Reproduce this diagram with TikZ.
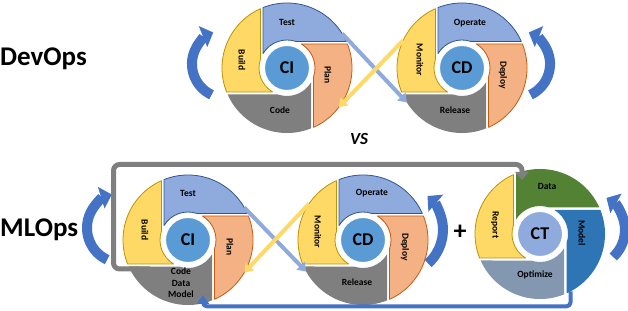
\documentclass[tikz,border=0pt]{standalone}
\usepackage{fontspec}
\setsansfont{Carlito}
\usetikzlibrary{arrows.meta}

% one quarter of a cycle wheel, drawn as the top quarter and turned by #1
\newcommand{\wheelpart}[2]{%
  \path[#2, rotate=#1] (-24,60.41) -- (-24,14.42)
    arc[start angle=149, end angle=71.2, radius=28]
    -- (59.35,26.5) arc[start angle=24.06, end angle=111.67, radius=65] -- cycle;}

\begin{document}
\begin{tikzpicture}[x=1pt, y=1pt, font=\sffamily\bfseries, line join=round]
  \definecolor{sun}{HTML}{FFD966}
  \definecolor{sunline}{HTML}{BF9000}
  \definecolor{sky}{HTML}{8FAADC}
  \definecolor{skyline}{HTML}{2F5597}
  \definecolor{peach}{HTML}{F4B183}
  \definecolor{peachline}{HTML}{C55A11}
  \definecolor{slate}{HTML}{7F7F7F}
  \definecolor{hubblue}{HTML}{5B9BD5}
  \definecolor{leaf}{HTML}{548235}
  \definecolor{sea}{HTML}{2E75B6}
  \definecolor{steel}{HTML}{8497B0}
  \definecolor{loopblue}{HTML}{4472C4}
  \tikzset{
    wheel/.style={circle, minimum size=130pt, inner sep=0pt, outer sep=0pt},
    hub/.style={circle, minimum size=46pt, inner sep=0pt, draw=white, line width=2pt,
      fill=hubblue, font=\sffamily\bfseries\fontsize{18}{18}\selectfont},
    partlabel/.style={inner sep=1pt, align=center, font=\sffamily\bfseries\fontsize{9.5}{11.5}\selectfont},
    sidelabel/.style={partlabel, rotate=-90},
    sunpart/.style={fill=sun, draw=sunline, line width=.8pt},
    skypart/.style={fill=sky, draw=skyline, line width=.8pt},
    peachpart/.style={fill=peach, draw=peachline, line width=.8pt},
    slatepart/.style={fill=slate},
    leafpart/.style={fill=leaf},
    seapart/.style={fill=sea},
    steelpart/.style={fill=steel},
    roundarrow/.style={draw=loopblue, line width=10pt, -{Triangle[width=22pt,length=11pt]}},
    crossline/.style={line width=4pt, -{Triangle[width=11pt,length=8pt]}},
    loopback/.style={draw=slate, line width=5pt, rounded corners=6pt, -{Triangle[width=13pt,length=8pt]}},
    feedback/.style={draw=loopblue, line width=4pt, rounded corners=4pt, -{Triangle[width=12pt,length=9pt]}},
    headline/.style={anchor=base west, inner sep=0pt, font=\sffamily\bfseries\fontsize{27}{27}\selectfont},
  }
  \useasboundingbox (0,0) rectangle (628,310);

  % DevOps: CI wheel and CD wheel
  \node[wheel] (devci) at (287,242) {};
  \begin{scope}[shift={(devci.center)}]
    \wheelpart{0}{skypart}
    \wheelpart{-90}{peachpart}
    \wheelpart{180}{slatepart}
    \wheelpart{90}{sunpart}
    \node[hub] (devcihub) at (0,0) {CI};
    \node[partlabel] (devtest) at (0,46) {Test};
    \node[sidelabel] (devplan) at (41,-7) {Plan};
    \node[partlabel] (devcode) at (-7,-42) {Code};
    \node[sidelabel] (devbuild) at (-45,8) {Build};
  \end{scope}
  \node[wheel] (devcd) at (462,242) {};
  \begin{scope}[shift={(devcd.center)}]
    \wheelpart{0}{skypart}
    \wheelpart{-90}{peachpart}
    \wheelpart{180}{slatepart}
    \wheelpart{90}{sunpart}
    \node[hub] (devcdhub) at (0,0) {CD};
    \node[partlabel] (devoperate) at (8,45) {Operate};
    \node[sidelabel] (devdeploy) at (41,-7) {Deploy};
    \node[partlabel] (devrelease) at (-7,-42) {Release};
    \node[sidelabel] (devmonitor) at (-42,8) {Monitor};
  \end{scope}
  \draw[crossline, sky] (devci.32) -- (devcd.212);
  \draw[crossline, sun] (devcd.155) -- (devci.-37);

  % MLOps: CI and CD wheels, then the CT wheel
  \node[wheel] (mlci) at (188,70) {};
  \begin{scope}[shift={(mlci.center)}]
    \wheelpart{0}{skypart}
    \wheelpart{-90}{peachpart}
    \wheelpart{180}{slatepart}
    \wheelpart{90}{sunpart}
    \node[hub] (mlcihub) at (0,0) {CI};
    \node[partlabel] (mltest) at (0,47) {Test};
    \node[sidelabel] (mlplan) at (42,-7) {Plan};
    \node[partlabel] (mlcode) at (-7,-43) {Code\\Data\\Model};
    \node[sidelabel] (mlbuild) at (-43,10) {Build};
  \end{scope}
  \node[wheel] (mlcd) at (363,70) {};
  \begin{scope}[shift={(mlcd.center)}]
    \wheelpart{0}{skypart}
    \wheelpart{-90}{peachpart}
    \wheelpart{180}{slatepart}
    \wheelpart{90}{sunpart}
    \node[hub] (mlcdhub) at (0,0) {CD};
    \node[partlabel] (mloperate) at (9,47) {Operate};
    \node[sidelabel] (mldeploy) at (42,-7) {Deploy};
    \node[partlabel] (mlrelease) at (-6,-42) {Release};
    \node[sidelabel] (mlmonitor) at (-45,8) {Monitor};
  \end{scope}
  \node[wheel] (ctw) at (540,76) {};
  \coordinate (codein) at (203,15);
  \draw[feedback] (ctw.-62) -- ++(0,-15) -| (codein);
  \begin{scope}[shift={(ctw.center)}]
    \wheelpart{0}{leafpart}
    \wheelpart{-90}{seapart}
    \wheelpart{180}{steelpart}
    \wheelpart{90}{sunpart}
    \node[hub, fill=sky] (cthub) at (0,0) {CT};
    \node[partlabel] (ctdata) at (7,48) {Data};
    \node[sidelabel] (ctmodel) at (42,1) {Model};
    \node[partlabel] (ctoptimize) at (-5,-41) {Optimize};
    \node[sidelabel] (ctreport) at (-45,9) {Report};
  \end{scope}
  \coordinate (codeout) at (150,41);
  \coordinate (datain) at (522,130);
  \draw[loopback] (codeout) -- ++(-36.5,0) |- ([yshift=15.5pt]datain) -- (datain);
  \draw[crossline, sky] (mlci.30) -- (mlcd.209);
  \draw[crossline, sun] (mlcd.146) -- (mlci.-30);

  % turning arrows beside the wheels
  \draw[roundarrow] (211.6,215.2) arc[start angle=245, end angle=112, radius=34];
  \draw[roundarrow] (530.4,215.2) arc[start angle=-65, end angle=68, radius=34];
  \draw[roundarrow] (107.2,50.3) arc[start angle=245, end angle=107, radius=35];
  \draw[roundarrow] (428.1,46.6) arc[start angle=-48, end angle=49, radius=45];
  \draw[roundarrow] (613.2,53.0) arc[start angle=-47, end angle=60, radius=37];

  \node[headline] (devops) at (0,244) {DevOps};
  \node[headline] (mlops) at (0,73) {MLOps};
  \node[font=\sffamily\bfseries\itshape\fontsize{17}{17}\selectfont] (vs) at (359,171.5) {VS};
  \node[font=\sffamily\bfseries\fontsize{26}{26}\selectfont] (plussign) at (460,78) {+};
\end{tikzpicture}
\end{document}
